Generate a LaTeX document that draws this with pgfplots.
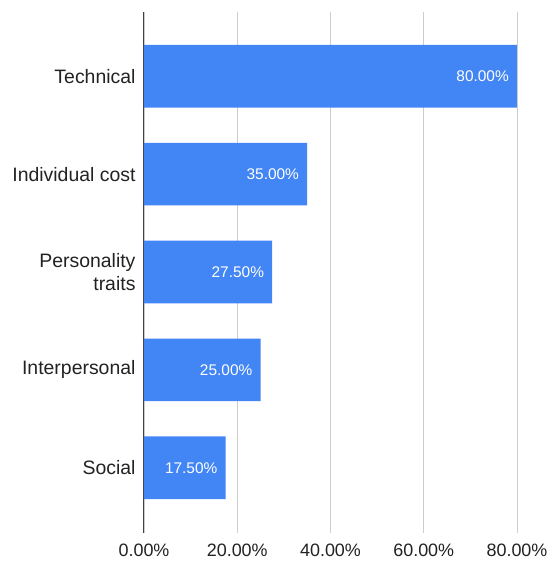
\documentclass[border=0pt]{standalone}
\usepackage{fontspec}
\setmainfont{Liberation Sans}
\usepackage{pgfplots}
\pgfplotsset{compat=1.18}
\definecolor{gblue}{HTML}{4285F4}
\definecolor{gridc}{HTML}{CCCCCC}
\definecolor{txt}{HTML}{222222}
\begin{document}
\begin{tikzpicture}
\path[use as bounding box] (-144bp,-32bp) rectangle (404bp,533bp);
\begin{axis}[
  at={(0,0)}, anchor=south west,
  scale only axis,
  width=373bp, height=521bp,
  xbar, bar width=0.64,
  xmin=0, xmax=80,
  ymin=-0.667, ymax=4.657,
  axis line style={draw=none},
  xtick={0,20,40,60,80},
  xticklabels={0.00\%,20.00\%,40.00\%,60.00\%,80.00\%},
  ytick={0,1,2,3,4},
  yticklabels={Social,Interpersonal,{Personality\\traits},Individual cost,Technical},
  major tick length=0pt,
  xmajorgrids,
  grid style={gridc, line width=0.9bp},
  extra x ticks={0},
  extra x tick labels={},
  extra x tick style={grid style={black!75, line width=1bp}},
  xticklabel style={font=\fontsize{18}{21}\selectfont, text=txt, yshift=-7bp},
  yticklabel style={font=\fontsize{19.5}{23}\selectfont, text=txt, align=right, xshift=-5bp},
  point meta=explicit symbolic,
  nodes near coords,
  nodes near coords style={anchor=east, inner sep=0pt, xshift=-8bp, text=white, font=\fontsize{15.5}{18}\selectfont},
]
\addplot[fill=gblue, draw=none] coordinates {
  (17.5,0) [17.50\%]
  (25,1) [25.00\%]
  (27.5,2) [27.50\%]
  (35,3) [35.00\%]
  (80,4) [80.00\%]
};
\end{axis}
\end{tikzpicture}
\end{document}
